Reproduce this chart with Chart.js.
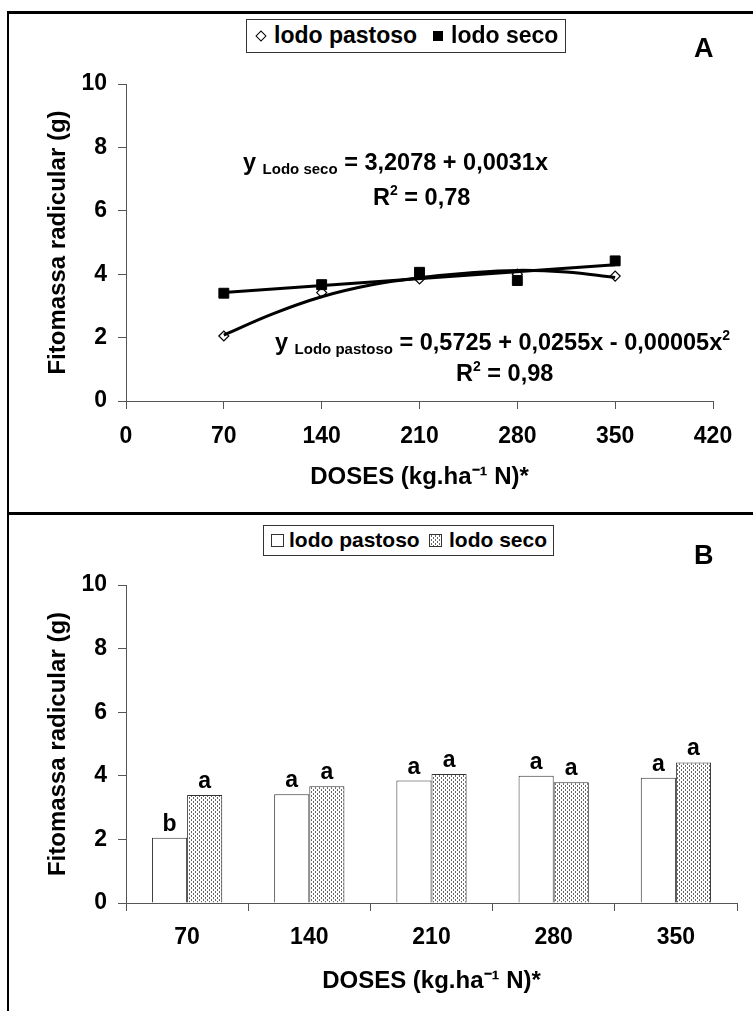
<!DOCTYPE html>
<html>
<head>
<meta charset="utf-8">
<script src="https://cdn.jsdelivr.net/npm/chart.js@4.4.0/dist/chart.umd.min.js"></script>
<style>
  body { margin: 0; background: #fff; width: 753px; height: 1011px; position: relative; overflow: hidden;
         font-family: 'Liberation Sans', Arial, sans-serif; font-weight: bold; color: #000; }
  canvas { position: absolute; left: 0; }
  .fl { position: absolute; left: 7px; top: 11px; width: 2px; height: 1000px; background: #000; }
  .fh { position: absolute; left: 7px; width: 746px; height: 3px; background: #000; }
  .lg { position: absolute; border: 1px solid #333; background: #fff; white-space: nowrap; }
  .lg span { position: absolute; }
  .tag { position: absolute; font-size: 27px; line-height: 30px; }
  .eq { position: absolute; font-size: 23.5px; line-height: 26px; white-space: nowrap; }
  .eq .s { font-size: 15px; position: relative; top: 4px; }
  .eq .p { font-size: 14px; position: relative; top: -10px; }
</style>
</head>
<body>
<div class="fl"></div>
<div class="fh" style="top:11px"></div>
<div class="fh" style="top:512px"></div>

<canvas id="chartA" width="753" height="513" style="top:0"></canvas>
<canvas id="chartB" width="753" height="498" style="top:513px"></canvas>

<!-- legends -->
<div class="lg" style="left:246px;top:19px;width:318px;height:32px;font-size:23px">
  <span style="left:10px;top:12px;width:6px;height:6px;border:1px solid #000;transform:rotate(45deg)"></span>
  <span style="left:27px;top:2px">lodo pastoso</span>
  <span style="left:186px;top:11px;width:10px;height:10px;background:#000"></span>
  <span style="left:204px;top:2px">lodo seco</span>
</div>
<div class="tag" style="left:694px;top:33px">A</div>

<div class="lg" style="left:263px;top:525px;width:289px;height:29px;font-size:21px">
  <span style="left:7px;top:8px;width:11px;height:11px;border:1px solid #333"></span>
  <span style="left:25px;top:2px">lodo pastoso</span>
  <span id="lgSeco" style="left:165px;top:8px;width:11px;height:11px;border:1px solid #333"></span>
  <span style="left:185px;top:2px">lodo seco</span>
</div>
<div class="tag" style="left:694px;top:540px">B</div>

<!-- regression equations, panel A -->
<div class="eq" style="left:243px;top:149px">y <span class="s">Lodo seco</span> = 3,2078 + 0,0031x</div>
<div class="eq" style="left:373px;top:184px">R<span class="p">2</span> = 0,78</div>
<div class="eq" style="left:275px;top:329px">y <span class="s">Lodo pastoso</span> = 0,5725 + 0,0255x - 0,00005x<span class="p">2</span></div>
<div class="eq" style="left:456px;top:360px">R<span class="p">2</span> = 0,98</div>

<script>
Chart.defaults.font.family = "'Liberation Sans', Arial, sans-serif";
Chart.defaults.font.weight = 'bold';
Chart.defaults.color = '#000';

// doses (kg/ha N) and measured root biomass (g)
const DOSES = [70, 140, 210, 280, 350];
const PASTOSO = [2.05, 3.42, 3.85, 4.00, 3.94];
const SECO = [3.40, 3.67, 4.06, 3.80, 4.42];
// letters of the mean comparison test shown over the bars
const LETRAS_PASTOSO = ['b', 'a', 'a', 'a', 'a'];
const LETRAS_SECO = ['a', 'a', 'a', 'a', 'a'];
// fitted curves
const FIT_SECO_X = [70, 350];
const FIT_SECO_Y = [3.42, 4.30];
const FIT_PAST_X = [70, 105, 140, 175, 210, 245, 280, 315, 350];
const FIT_PAST_Y = [2.08, 2.75, 3.29, 3.66, 3.89, 4.04, 4.12, 4.07, 3.90];

const pts = (xs, ys) => xs.map((x, i) => ({ x, y: ys[i] }));
const TICK_FONT = { size: 23, weight: 'bold' };
const TITLE_FONT = { size: 24, weight: 'bold' };
const AXIS = '#555';

// light dotted fill for "lodo seco" bars
function dotTile() {
  const c = document.createElement('canvas');
  c.width = 4; c.height = 4;
  const g = c.getContext('2d');
  g.fillStyle = '#fff'; g.fillRect(0, 0, 4, 4);
  g.fillStyle = '#666';
  g.fillRect(1, 0, 1, 2); g.fillRect(3, 2, 1, 2);
  return c;
}
const tile = dotTile();
document.getElementById('lgSeco').style.background = `url(${tile.toDataURL()})`;

const yAxis = () => ({
  min: 0, max: 10,
  ticks: { stepSize: 2, font: TICK_FONT, padding: 11 },
  grid: { drawOnChartArea: false, tickLength: 8, color: AXIS },
  border: { color: AXIS },
  title: { display: true, text: 'Fitomassa radicular (g)', font: TITLE_FONT, padding: { top: 4, bottom: 0 } },
  afterFit: s => { s.width = 86; },
});

new Chart(document.getElementById('chartA'), {
  type: 'scatter',
  data: {
    datasets: [
      { data: pts(DOSES, SECO), pointStyle: 'rect', pointRadius: 7, backgroundColor: '#000',
        borderColor: '#000', order: 1 },
      { data: pts(FIT_SECO_X, FIT_SECO_Y), showLine: true, pointRadius: 0, borderColor: '#000',
        borderWidth: 3, order: 2 },
      { data: pts(FIT_PAST_X, FIT_PAST_Y), showLine: true, pointRadius: 0, borderColor: '#000',
        borderWidth: 3, tension: 0.4, order: 3 },
      { data: pts(DOSES, PASTOSO), pointStyle: 'rectRot', pointRadius: 5, backgroundColor: '#fff',
        borderColor: '#000', borderWidth: 1.2, order: 4 },
    ],
  },
  options: {
    responsive: false, animation: false, devicePixelRatio: 1,
    layout: { padding: { left: 40, top: 84, right: 40, bottom: 0 } },
    plugins: { legend: { display: false }, tooltip: { enabled: false } },
    scales: {
      x: {
        type: 'linear', min: 0, max: 420,
        ticks: { stepSize: 70, font: TICK_FONT, padding: 14, maxRotation: 0 },
        grid: { drawOnChartArea: false, tickLength: 8, color: AXIS },
        border: { color: AXIS },
        title: { display: true, text: 'DOSES (kg.ha⁻¹ N)*', font: TITLE_FONT, padding: { top: 0, bottom: 21 } },
        afterFit: s => { s.height = 112; },
      },
      y: yAxis(),
    },
  },
});

const letras = {
  id: 'letras',
  afterDatasetsDraw(chart) {
    const ctx = chart.ctx;
    ctx.save();
    ctx.font = "bold 23px 'Liberation Sans', Arial, sans-serif";
    ctx.textAlign = 'center';
    ctx.textBaseline = 'alphabetic';
    ctx.fillStyle = '#000';
    [LETRAS_PASTOSO, LETRAS_SECO].forEach((lets, di) => {
      chart.getDatasetMeta(di).data.forEach((bar, i) => ctx.fillText(lets[i], bar.x, bar.y - 7));
    });
    ctx.restore();
  },
};

const ctxB = document.getElementById('chartB').getContext('2d');
new Chart(ctxB, {
  type: 'bar',
  data: {
    labels: DOSES.map(String),
    datasets: [
      { label: 'lodo pastoso', data: PASTOSO, backgroundColor: '#fff', borderColor: '#333', borderWidth: 1 },
      { label: 'lodo seco', data: SECO, backgroundColor: ctxB.createPattern(tile, 'repeat'), borderColor: '#333', borderWidth: 1 },
    ],
  },
  options: {
    responsive: false, animation: false, devicePixelRatio: 1,
    layout: { padding: { left: 40, top: 72, right: 16, bottom: 0 } },
    datasets: { bar: { categoryPercentage: 0.575, barPercentage: 1 } },
    plugins: { legend: { display: false }, tooltip: { enabled: false } },
    scales: {
      x: {
        ticks: { font: TICK_FONT, padding: 13, maxRotation: 0 },
        grid: { drawOnChartArea: false, tickLength: 8, color: AXIS },
        border: { color: AXIS },
        title: { display: true, text: 'DOSES (kg.ha⁻¹ N)*', font: TITLE_FONT, padding: { top: 0, bottom: 15 } },
        afterFit: s => { s.height = 108; },
      },
      y: yAxis(),
    },
  },
  plugins: [letras],
});
</script>
</body>
</html>
